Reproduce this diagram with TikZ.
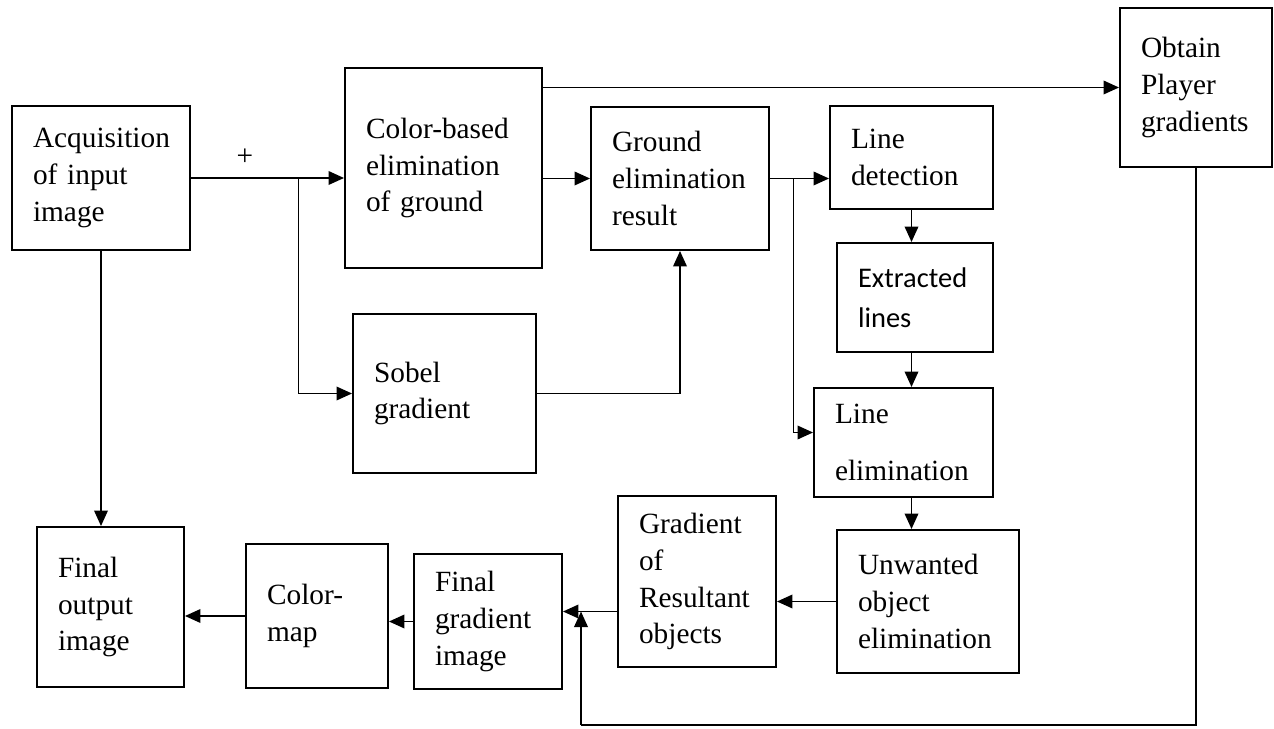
\documentclass[tikz,border=0pt]{standalone}
\usepackage{fontspec}
\setmainfont{Liberation Serif}
\newfontfamily\calibri{Carlito}
\usetikzlibrary{arrows.meta,positioning,calc}
\hyphenpenalty=10000
\exhyphenpenalty=10000

\begin{document}
\begin{tikzpicture}[
    x=0.02cm, y=-0.02cm,
    box/.style={draw, rectangle, line width=1.1pt, inner xsep=0.42cm, inner ysep=0pt,
                align=left, font=\fontsize{16.7}{21}\selectfont},
    arr/.style={-{Triangle[length=0.31cm, width=0.27cm]}, line width=1.1pt},
    link/.style={line width=0.6pt},
  ]
  \useasboundingbox (0,0) rectangle (1274,729);

  % upper row
  \node[box, text width=2.72cm, minimum height=2.88cm] (acq)    at (101,178)    {Acquisition\\ of input\\ image};
  \node[box, text width=3.10cm, minimum height=4.00cm] (colgnd) at (443.5,168)  {Color-based\\ elimination\\ of ground};
  \node[box, text width=2.72cm, minimum height=2.86cm] (gnd)    at (680,178.5)  {Ground\\ elimination\\ result};
  \node[box, text width=2.42cm, minimum height=2.06cm] (linedet) at (911.5,157.5) {Line\\ detection};
  \node[box, text width=2.20cm, minimum height=3.18cm] (obtain) at (1196,87.5)  {Obtain\\ Player\\ gradients};
  \node[font=\fontsize{16.7}{21}\selectfont] (plus) at (245,157) {+};

  % middle
  \node[box, text width=2.82cm, minimum height=3.18cm] (sobel)  at (444.5,393.5) {Sobel\\ gradient};
  \node[box, text width=2.28cm, minimum height=2.18cm,
        font=\calibri\fontsize{16.2}{22.5}\selectfont] (extr)   at (915,297.5)  {Extracted\\ lines};
  \node[box, text width=2.74cm, minimum height=2.18cm] (lineelim) at (903.5,442.5) {Line\\[11pt] elimination};

  % lower row
  \node[box, text width=2.80cm, minimum height=2.86cm] (unw)     at (928,601.5) {Unwanted\\ object\\ elimination};
  \node[box, text width=2.32cm, minimum height=3.42cm] (gradres) at (697,581.5) {Gradient\\ of\\ Resultant\\ objects};
  \node[box, text width=2.12cm, minimum height=2.70cm] (fingrad) at (488,621.5) {Final\\ gradient\\ image};
  \node[box, text width=2.00cm, minimum height=2.88cm] (cmap)    at (317,616)   {Color-\\ map};
  \node[box, text width=2.10cm, minimum height=3.20cm] (finout)  at (110.5,607) {Final\\ output\\ image};

  \coordinate (split1) at ($(acq.east)+(108,0)$);
  \coordinate (split2) at ($(gnd.east)+(24,0)$);
  \coordinate (lein)   at ($(lineelim.west)+(0,-10)$);
  \coordinate (fgin)   at ($(fingrad.east)+(0,-10)$);
  \coordinate (low)    at (581,725);

  % ground elimination path
  \draw[arr] (acq.east) -- (acq.east -| colgnd.west);
  \draw[link] (split1) -- (split1 |- sobel.west);
  \draw[arr] (split1 |- sobel.west) -- (sobel.west);
  \draw[arr] (colgnd.east |- gnd.west) -- (gnd.west);
  \draw[link] (sobel.east) -- (sobel.east -| gnd.south);
  \draw[arr] (sobel.east -| gnd.south) -- (gnd.south);
  \draw[arr] (colgnd.east |- obtain.west) -- (obtain.west);

  % line handling
  \draw[arr] (gnd.east) -- (gnd.east -| linedet.west);
  \draw[link] (split2) -- (split2 |- lein);
  \draw[arr] (split2 |- lein) -- (lein);
  \draw[arr] (linedet.south) -- (linedet.south |- extr.north);
  \draw[arr] (linedet.south |- extr.south) -- (linedet.south |- lineelim.north);
  \draw[arr] (linedet.south |- lineelim.south) -- (linedet.south |- unw.north);

  % back to the output
  \draw[arr] (unw.west) -- (unw.west -| gradres.east);
  \draw[arr] (fgin -| gradres.west) -- (fgin);
  \draw[arr] (fingrad.west) -- (fingrad.west -| cmap.east);
  \draw[arr] (cmap.west) -- (cmap.west -| finout.east);
  \draw[arr] (acq.south) -- (acq.south |- finout.north);

  % player gradients come back in
  \draw[link] (obtain.south) |- (low);
  \draw[arr] (low) -- (low |- fgin);
\end{tikzpicture}
\end{document}
